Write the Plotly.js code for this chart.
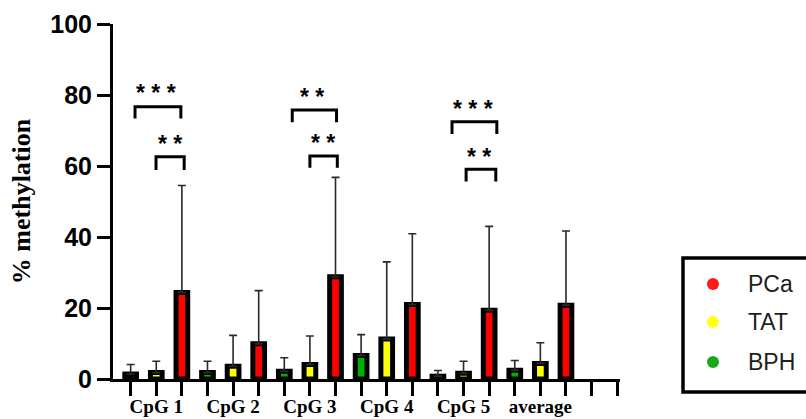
<!DOCTYPE html>
<html>
<head>
<meta charset="utf-8">
<script src="https://cdn.plot.ly/plotly-3.0.1.min.js"></script>
<style>html,body{margin:0;padding:0;background:#fff;}#chart{width:806px;height:419px;}</style>
</head>
<body>
<div id="chart"></div>
<script>
// ---- data ----
const groups = ["CpG 1", "CpG 2", "CpG 3", "CpG 4", "CpG 5", "average"];
const seriesNames = ["BPH", "TAT", "PCa"];
const bphMean = [1.4, 1.8, 2.2, 6.6, 0.8, 2.5];
const bphSD   = [2.7, 3.2, 3.8, 5.9, 1.6, 2.7];
const tatMean = [1.8, 3.6, 4.1, 11.3, 1.6, 4.4];
const tatSD   = [3.2, 8.7, 8.0, 21.7, 3.4, 5.8];
const pcaMean = [24.4, 9.9, 28.8, 21.0, 19.4, 20.8];
const pcaSD   = [30.1, 15.0, 28.0, 19.9, 23.6, 20.9];
const yTicks = [0, 20, 40, 60, 80, 100];

// significance brackets: [from position, to position, top, bottom, label, label x, label y]
const sigFrom  = [0.17, 0.99, 6.31, 7.0, 12.55, 13.1];
const sigTo    = [1.96, 2.09, 8.04, 8.07, 14.3, 14.26];
const sigTop   = [76.7, 62.6, 75.8, 62.8, 72.5, 59.1];
const sigBot   = [73.4, 58.9, 72.3, 59.5, 69.0, 55.6];
const sigLabel = ["* * *", "* *", "* *", "* *", "* * *", "* *"];
const sigLabX  = [1.0, 1.52, 7.1, 7.5, 13.36, 13.6];
const sigLabY  = [81.9, 67.5, 80.8, 67.8, 77.5, 64.0];

// legend entries (drawn top to bottom)
const legendNames = ["PCa", "TAT", "BPH"];

// ---- build ----
const slots = 3;             // bars per group
const totalSlots = 20;       // includes two empty slots at end
const colors = {BPH: "#00b000", TAT: "#ffff00", PCa: "#ff0000"};
const legendColors = {BPH: "#1aa81a", TAT: "#ffff1a", PCa: "#ff1a1a"};
const means = [bphMean, tatMean, pcaMean];
const sds = [bphSD, tatSD, pcaSD];

const traces = seriesNames.map((name, si) => ({
  type: "bar",
  name: name,
  x: groups.map((g, gi) => gi * slots + si),
  y: means[si],
  width: 0.457,
  marker: {color: colors[name], line: {color: "#000", width: 5}},
  error_y: {type: "data", symmetric: false, array: sds[si], arrayminus: sds[si].map(() => 0),
            color: "#2a2a2a", thickness: 1.6, width: 4},
  showlegend: false,
  hoverinfo: "skip"
}));

const tickvals = Array.from({length: totalSlots}, (_, i) => i);
const ticktext = tickvals.map(i => {
  const gi = Math.floor(i / slots);
  return (i % slots === 1 && gi < groups.length) ? groups[gi] : "";
});

const shapes = [];
const annotations = [];
sigFrom.forEach((x0, i) => {
  const x1 = sigTo[i], yt = sigTop[i], yb = sigBot[i];
  shapes.push({type: "path", xref: "x", yref: "y",
    path: `M ${x0},${yb} L ${x0},${yt} L ${x1},${yt} L ${x1},${yb}`,
    line: {color: "#000", width: 3}});
  annotations.push({xref: "x", yref: "y", x: sigLabX[i], y: sigLabY[i], text: sigLabel[i],
    showarrow: false, yshift: -5, font: {family: "Liberation Sans", size: 23, color: "#000", weight: "bold"}});
});

// legend box (extends beyond right edge like the reference)
const pw = 507, ph = 355;
const px = v => (v - 113) / pw;
const py = v => (379 - v) / ph;
shapes.push({type: "rect", xref: "paper", yref: "paper", x0: px(683), x1: px(830), y0: py(392), y1: py(258),
  line: {color: "#000", width: 3.5}, fillcolor: "rgba(0,0,0,0)"});
const legY = [284, 322, 362];
legendNames.forEach((n, i) => {
  shapes.push({type: "circle", xref: "paper", yref: "paper", xsizemode: "pixel", ysizemode: "pixel",
    xanchor: px(713), yanchor: py(legY[i]), x0: -6, x1: 6, y0: -6, y1: 6,
    fillcolor: legendColors[n], line: {width: 0}});
  annotations.push({xref: "paper", yref: "paper", x: px(746), y: py(legY[i]), xanchor: "left", yanchor: "middle",
    text: n, showarrow: false, font: {family: "Liberation Sans", size: 23, color: "#1e1e1e"}});
});

const layout = {
  width: 806, height: 419,
  margin: {l: 113, r: 186, t: 24, b: 40, pad: 0},
  paper_bgcolor: "#fff", plot_bgcolor: "#fff",
  bargap: 0,
  xaxis: {
    range: [-0.69, 19.11], tickvals: tickvals, ticktext: ticktext,
    showline: true, linecolor: "#000", linewidth: 3, ticks: "outside", ticklen: 14, tickwidth: 3, tickcolor: "#000",
    showgrid: false, zeroline: false, fixedrange: true, ticklabelstandoff: -6,
    tickfont: {family: "Liberation Serif", size: 19, color: "#000", weight: "bold"}
  },
  yaxis: {
    range: [0, 100], tickvals: yTicks,
    showline: true, linecolor: "#000", linewidth: 3, ticks: "outside", ticklen: 13, tickwidth: 3, tickcolor: "#000",
    showgrid: false, zeroline: false, fixedrange: true,
    tickfont: {family: "Liberation Sans", size: 25, color: "#000", weight: "bold"},
    title: {text: "% methylation", standoff: 13, font: {family: "Liberation Serif", size: 26, color: "#000", weight: "bold"}}
  },
  shapes: shapes,
  annotations: annotations,
  showlegend: false
};

Plotly.newPlot("chart", traces, layout, {displayModeBar: false, staticPlot: true});
</script>
</body>
</html>
